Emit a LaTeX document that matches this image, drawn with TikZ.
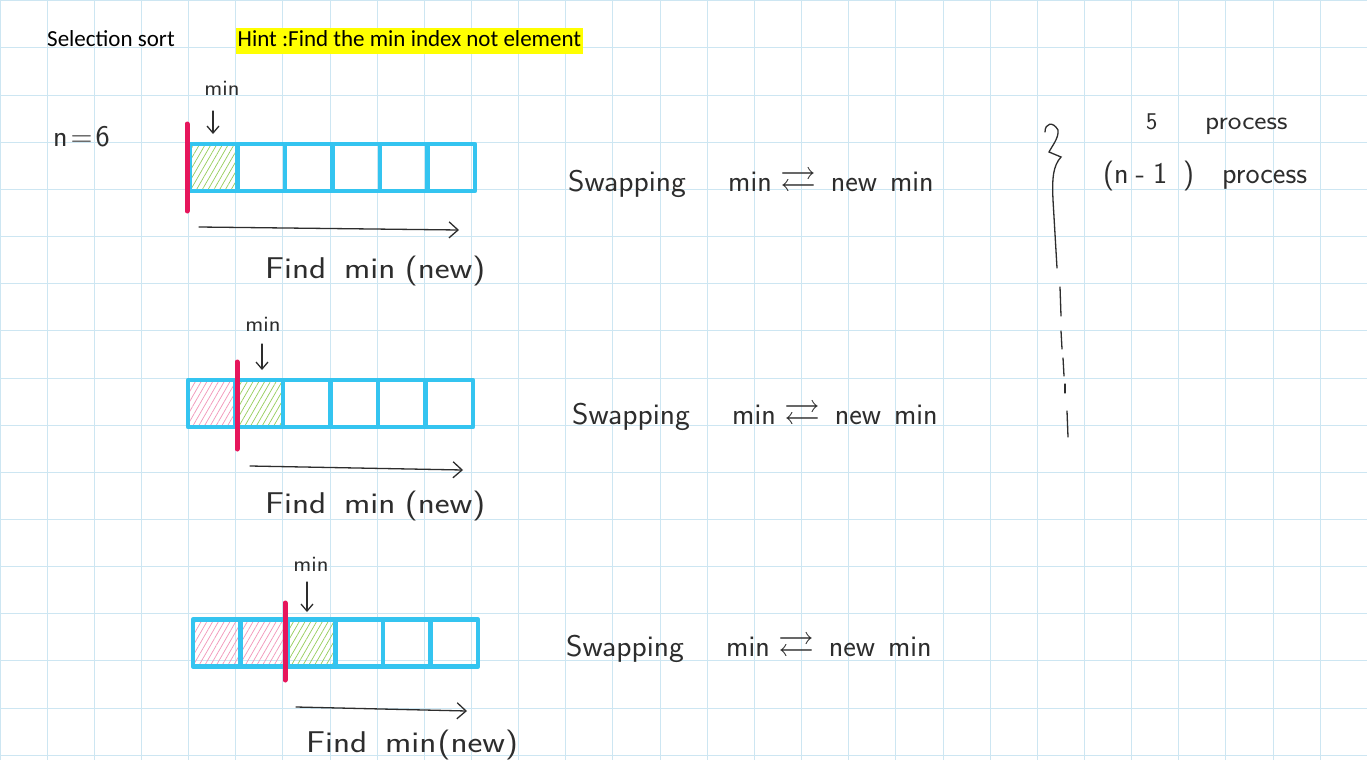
\documentclass[tikz,border=0pt]{standalone}
\usepackage{fontspec}
\usepackage{amssymb}
\usepackage{graphicx}
\usetikzlibrary{arrows.meta,patterns.meta}
\newfontfamily\calibri{Carlito}
\definecolor{gridc}{RGB}{205,230,242}
\definecolor{cellblue}{RGB}{52,196,240}
\definecolor{barred}{RGB}{230,22,92}
\definecolor{hatchgreen}{RGB}{150,205,90}
\definecolor{hatchpink}{RGB}{242,150,185}
\definecolor{pencil}{RGB}{45,45,45}
\definecolor{hl}{RGB}{255,255,0}
\newcommand{\swaptext}{min\hspace{9pt}\scalebox{1.2}{$\rightleftarrows$}\hspace{14pt}new\hspace{13pt}min}
\newcommand{\findtext}[1]{\scalebox{1.18}[1]{Find\hspace{15pt}min#1(new)}}
\tikzset{
  gridline/.style={draw=gridc, line width=1pt},
  cell/.style={draw=cellblue, line width=4.5pt, minimum width=47.5pt, minimum height=47pt, inner sep=0pt, line join=round},
  greencell/.style={cell, pattern={Lines[angle=60,distance=5pt,line width=0.7pt]}, pattern color=hatchgreen},
  pinkcell/.style={cell, pattern={Lines[angle=60,distance=5pt,line width=0.7pt]}, pattern color=hatchpink},
  redbar/.style={draw=barred, line width=5pt, line cap=round},
  pencilline/.style={draw=pencil, line width=1.3pt, line cap=round},
  pencilarrow/.style={pencilline, -{Straight Barb[length=9pt,width=16pt,line width=1.3pt]}},
  smallarrow/.style={pencilline, -{Straight Barb[length=7pt,width=12pt,line width=1.3pt]}},
  hand/.style={text=pencil, font=\sffamily\fontsize{30}{34}\selectfont, inner sep=0pt},
  handsmall/.style={text=pencil, font=\sffamily\fontsize{22}{26}\selectfont, inner sep=0pt},
  typed/.style={font=\calibri\fontsize{23}{27}\selectfont, inner sep=0pt, anchor=base west},
}
\begin{document}
\begin{tikzpicture}[x=1pt,y=-1pt]
\useasboundingbox (0,0) rectangle (1367,760);
\fill[white] (0,0) rectangle (1367,760);
% grid
\foreach \i in {0,...,29} \draw[gridline] ({\i*47.15},0) -- ({\i*47.15},760);
\foreach \j in {0,...,16} \draw[gridline] (0,{0.8+\j*47.15}) -- (1367,{0.8+\j*47.15});

% header
\node[typed] (title) at (47,47) {Selection sort};
\node[typed, fill=hl, inner xsep=1.5pt, inner ysep=0pt, text height=19pt, text depth=7pt] (hint) at (236,47) {Hint :Find the min index not element};

% n = 6
\node[hand, anchor=base west] (n6) at (53,146) {n\hspace{3pt}=\hspace{3pt}6};

% ===== Row 1 =====
\node[greencell] (r1c0) at ({190+23.75},167.5) {};
\foreach \k in {1,...,5} \node[cell] (r1c\k) at ({190+47.5*\k+23.75},167.5) {};
\coordinate (b1t) at (187,124);
\coordinate (b1b) at (187,211);
\draw[redbar] (b1t) -- (b1b);
\node[handsmall, anchor=base] (m1) at (222,95) {\scalebox{1.1}[1]{min}};
\coordinate (m1s) at (213,111);
\coordinate (m1e) at (213,134);
\draw[smallarrow] (m1s) -- (m1e);
\coordinate (f1s) at (199,227);
\coordinate (f1e) at (459,230);
\draw[pencilarrow] (f1s) -- (f1e);
\node[hand, anchor=base west] (fm1) at (265,278) {\findtext{\hspace{8pt}}};
\node[hand, anchor=base west] (sw1) at (568,191) {\scalebox{1.05}[1]{Swapping}};
\node[hand, anchor=base west] (mn1) at (728,191) {\swaptext};

% ===== Row 2 =====
\node[pinkcell] (r2c0) at ({188+23.75},403.5) {};
\node[greencell] (r2c1) at ({188+47.5+23.75},403.5) {};
\foreach \k in {2,...,5} \node[cell] (r2c\k) at ({188+47.5*\k+23.75},403.5) {};
\coordinate (b2t) at (237,362);
\coordinate (b2b) at (237,449);
\draw[redbar] (b2t) -- (b2b);
\node[handsmall, anchor=base] (m2) at (263,331) {\scalebox{1.1}[1]{min}};
\coordinate (m2s) at (262,344);
\coordinate (m2e) at (262,370);
\draw[smallarrow] (m2s) -- (m2e);
\coordinate (f2s) at (250,466);
\coordinate (f2e) at (463,470);
\draw[pencilarrow] (f2s) -- (f2e);
\node[hand, anchor=base west] (fm2) at (265,513) {\findtext{\hspace{8pt}}};
\node[hand, anchor=base west] (sw2) at (572,424) {\scalebox{1.05}[1]{Swapping}};
\node[hand, anchor=base west] (mn2) at (732,424) {\swaptext};

% ===== Row 3 =====
\node[pinkcell] (r3c0) at ({193+23.75},643) {};
\node[pinkcell] (r3c1) at ({193+47.5+23.75},643) {};
\node[greencell] (r3c2) at ({193+95+23.75},643) {};
\foreach \k in {3,...,5} \node[cell] (r3c\k) at ({193+47.5*\k+23.75},643) {};
\coordinate (b3t) at (285,603);
\coordinate (b3b) at (285,680);
\draw[redbar] (b3t) -- (b3b);
\node[handsmall, anchor=base] (m3) at (311,571) {\scalebox{1.1}[1]{min}};
\coordinate (m3s) at (307,582);
\coordinate (m3e) at (307,612);
\draw[smallarrow] (m3s) -- (m3e);
\coordinate (f3s) at (296,707);
\coordinate (f3e) at (467,711);
\draw[pencilarrow] (f3s) -- (f3e);
\node[hand, anchor=base west] (fm3) at (306,752) {\findtext{\hspace{1pt}}};
\node[hand, anchor=base west] (sw3) at (566,656) {\scalebox{1.05}[1]{Swapping}};
\node[hand, anchor=base west] (mn3) at (726,656) {\swaptext};

% ===== Right side brace =====
\draw[pencilline] (1045,132) .. controls (1045,123) and (1053,121) .. (1058,130)
  .. controls (1059,138) and (1052,146) .. (1049,152) -- (1061,157)
  .. controls (1053,166) and (1052,178) .. (1053,200) -- (1057,268);
\draw[pencilline] (1060,287) -- (1061,316);
\draw[pencilline] (1061,331) -- (1062,349);
\draw[pencilline] (1063,358) -- (1064,376);
\draw[pencilline] (1065,384) -- (1065,393);
\draw[pencilline] (1067,411) -- (1068,437);
\node[hand, anchor=base west, font=\sffamily\fontsize{24}{28}\selectfont] (five) at (1146,129) {5};
\node[hand, anchor=base west, font=\sffamily\fontsize{26}{30}\selectfont] (proc1) at (1205,129) {\scalebox{1.12}[1]{process}};
\node[hand, anchor=base west] (nm1) at (1103,183) {(n\hspace{7pt}-\hspace{8pt}1\hspace{16pt})};
\node[hand, anchor=base west] (proc2) at (1222,183) {process};
\end{tikzpicture}
\end{document}
